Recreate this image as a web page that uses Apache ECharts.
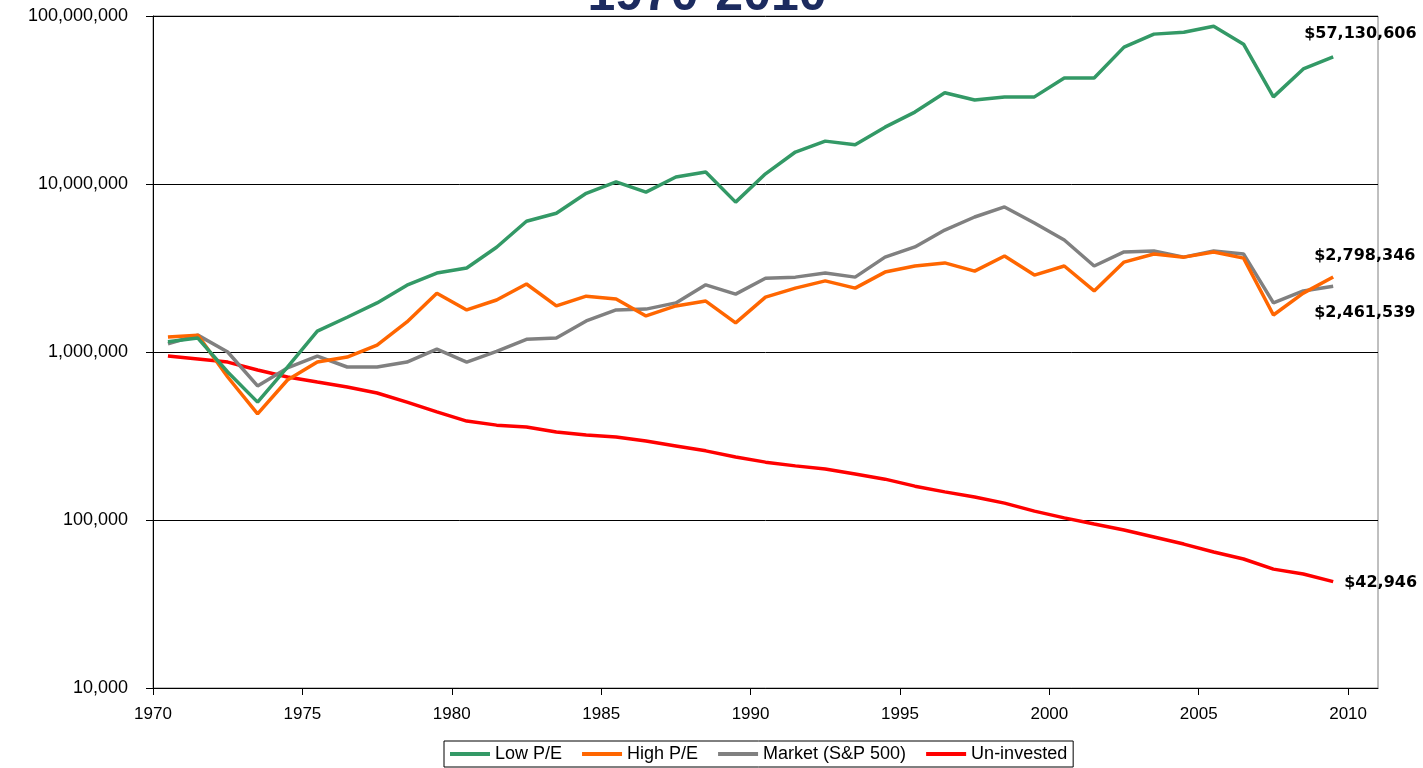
<!DOCTYPE html>
<html lang="en">
<head>
    <meta charset="UTF-8">
    <title>Low P/E vs High P/E 1970-2010</title>
    <style>
        html, body {
            margin: 0;
            padding: 0;
            background: #fff;
        }
        #chart {
            width: 1423px;
            height: 768px;
        }
    </style>
</head>
<body>
<div id="chart"></div>

<script src="https://cdn.jsdelivr.net/npm/echarts@6/dist/echarts.min.js"></script>
<script>
    // years (each point sits in the middle of its year)
    const years = [1970, 1971, 1972, 1973, 1974, 1975, 1976, 1977, 1978, 1979,
                   1980, 1981, 1982, 1983, 1984, 1985, 1986, 1987, 1988, 1989,
                   1990, 1991, 1992, 1993, 1994, 1995, 1996, 1997, 1998, 1999,
                   2000, 2001, 2002, 2003, 2004, 2005, 2006, 2007, 2008, 2009];

    const lowPE = [1150000, 1210000, 760000, 503000, 814000, 1330000, 1610000, 1960000, 2500000, 2950000,
                   3160000, 4200000, 6000000, 6700000, 8800000, 10300000, 8950000, 11000000, 11800000, 7800000,
                   11500000, 15500000, 18000000, 17100000, 21800000, 26800000, 34900000, 31600000, 33000000, 33000000,
                   42800000, 42800000, 65300000, 78000000, 80000000, 87000000, 68000000, 33000000, 48400000, 57130606];

    const highPE = [1230000, 1260000, 710000, 428000, 681000, 871000, 933000, 1100000, 1510000, 2240000,
                    1780000, 2040000, 2540000, 1880000, 2150000, 2070000, 1640000, 1880000, 2010000, 1490000,
                    2120000, 2400000, 2650000, 2400000, 2990000, 3250000, 3390000, 3030000, 3730000, 2870000,
                    3250000, 2310000, 3430000, 3830000, 3670000, 3940000, 3620000, 1660000, 2240000, 2798346];

    const market = [1120000, 1260000, 1000000, 628000, 804000, 946000, 814000, 814000, 871000, 1040000,
                    871000, 1010000, 1190000, 1210000, 1530000, 1780000, 1800000, 1960000, 2510000, 2210000,
                    2750000, 2790000, 2950000, 2790000, 3670000, 4220000, 5320000, 6360000, 7300000, 5860000,
                    4640000, 3250000, 3940000, 3990000, 3670000, 3990000, 3830000, 1960000, 2310000, 2461539];

    const uninvested = [946000, 908000, 871000, 782000, 710000, 662000, 619000, 570000, 503000, 440000,
                        388000, 367000, 358000, 334000, 321000, 312000, 295000, 276000, 258000, 237000,
                        221000, 210000, 201000, 188000, 175000, 159000, 147000, 137000, 126000, 113000,
                        103000, 94600, 87100, 79200, 71900, 64500, 58600, 51000, 47700, 42946];

    const seriesNames = ['Low P/E', 'High P/E', 'Market (S&P 500)', 'Un-invested'];
    const colors = ['#339966', '#FF6600', '#808080', '#FF0000'];

    const chart = echarts.init(document.getElementById('chart'));

    function toPoints(values) {
        return values.map((v, i) => [years[i] + 0.5, v]);
    }

    function money(v) {
        return '$' + Math.round(v).toLocaleString('en-US');
    }

    // end label offsets [dx, dy]
    const labelOffsets = [[-37, -23], [-27, -21], [-27, 27], [3, 1]];

    const allValues = [lowPE, highPE, market, uninvested];
    const fontArial = '"Liberation Sans", Arial, sans-serif';

    chart.setOption({
        animation: false,
        color: colors,
        graphic: [{
            type: 'text',
            z: 100,
            style: {
                x: 707,
                y: 21,
                text: '1970-2010',
                align: 'center',
                verticalAlign: 'bottom',
                font: 'bold 50px "Liberation Sans", Arial, sans-serif',
                fill: '#1c2b5f'
            }
        }],
        grid: {
            left: 153,
            right: 45,
            top: 16,
            bottom: 80,
            show: true,
            borderColor: '#808080',
            borderWidth: 1
        },
        legend: {
            left: 444,
            top: 741,
            data: seriesNames,
            icon: 'rect',
            itemWidth: 40,
            itemHeight: 4,
            itemGap: 20,
            padding: [4, 6],
            borderColor: '#000',
            borderWidth: 1,
            textStyle: {
                fontFamily: fontArial,
                fontSize: 18,
                color: '#000'
            }
        },
        xAxis: {
            type: 'value',
            min: 1970,
            max: 2011,
            interval: 5,
            axisLine: { lineStyle: { color: '#000', width: 1 } },
            axisTick: { length: 7, lineStyle: { color: '#000' } },
            splitLine: { show: false },
            axisLabel: {
                showMaxLabel: false,
                margin: 18,
                color: '#000',
                fontSize: 17,
                fontFamily: fontArial,
                formatter: v => String(v)
            }
        },
        yAxis: {
            type: 'log',
            logBase: 10,
            min: 10000,
            max: 100000000,
            axisLine: { show: true, lineStyle: { color: '#000', width: 1 } },
            axisTick: { show: true, length: 7, lineStyle: { color: '#000' } },
            minorTick: { show: false },
            splitLine: { show: true, lineStyle: { color: '#000', width: 1 } },
            axisLabel: {
                margin: 25,
                color: '#000',
                fontSize: 18,
                fontFamily: fontArial,
                padding: [3, 0, 0, 0],
                formatter: v => Math.round(v).toLocaleString('en-US')
            }
        },
        series: seriesNames.map((name, k) => ({
            name: name,
            type: 'line',
            data: toPoints(allValues[k]),
            showSymbol: false,
            symbol: 'none',
            lineStyle: { width: 3.5, color: colors[k] },
            z: 10 - k,
            endLabel: {
                show: true,
                offset: labelOffsets[k],
                formatter: p => money(p.value[1]),
                fontFamily: '"DejaVu Sans", sans-serif',
                fontWeight: 'bold',
                fontSize: 16,
                color: '#000'
            }
        }))
    });
</script>
</body>
</html>
